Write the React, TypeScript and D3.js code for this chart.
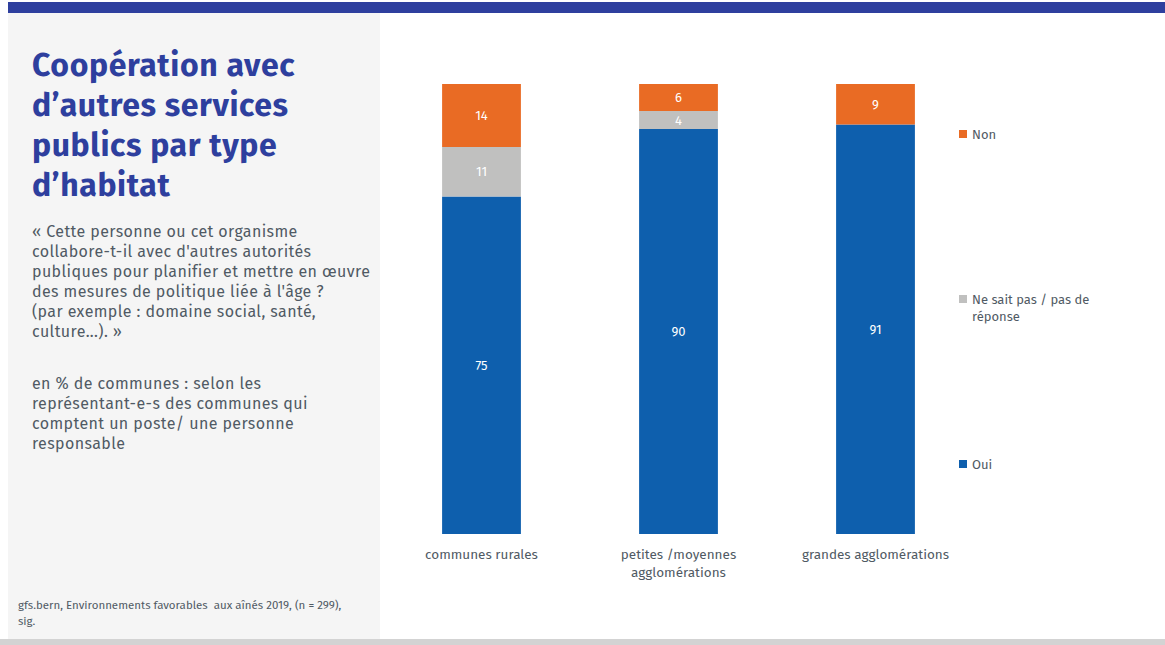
import React from "react";
import * as d3 from "d3";

const categories = ["communes rurales", "petites /moyennes|agglomérations", "grandes agglomérations"];
const seriesNames = ["Oui", "Ne sait pas / pas de|réponse", "Non"];
const oui = [75, 90, 91];
const nsp = [11, 4, 0];
const non = [14, 6, 9];
const seriesColors = ["#0E5FAD", "#C0C0BF", "#E96B24"];

const titleLines = ["Coopération avec", "d’autres services", "publics par type", "d’habitat"];
const questionLines = [
  "« Cette personne ou cet organisme",
  "collabore-t-il avec d'autres autorités",
  "publiques pour planifier et mettre en œuvre",
  "des mesures de politique liée à l'âge ?",
  "(par exemple : domaine social, santé,",
  "culture...). »",
];
const unitLines = [
  "en % de communes : selon les",
  "représentant-e-s des communes qui",
  "comptent un poste/ une personne",
  "responsable",
];
const sourceLines = ["gfs.bern, Environnements favorables  aux aînés 2019, (n = 299),", "sig."];

const FONT = "'Fira Sans', Lato, 'Open Sans', sans-serif";
const TXT = "#505A64";

export default function App() {
  const W = 1165, H = 645;
  const rows = categories.map((c, i) => ({ cat: c, Oui: oui[i], NSP: nsp[i], Non: non[i] }));
  const keys = ["Oui", "NSP", "Non"];
  const stack = d3.stack<any>().keys(keys)(rows);
  const x = d3.scaleBand<string>().domain(categories).range([383, 974]).paddingInner(0.6).paddingOuter(0.3);
  const y = d3.scaleLinear().domain([0, 100]).range([534, 84]);
  const legendY = [464, 299, 134];

  return (
    <svg width={W} height={H} style={{ position: "absolute", left: 0, top: 0 }} fontFamily={FONT}>
      <rect x={0} y={0} width={W} height={H} fill="#fff" />
      <rect x={8} y={2} width={W - 8} height={11} fill="#2E3F9E" />
      <rect x={8} y={13} width={372} height={626} fill="#F5F5F5" />
      <rect x={0} y={639} width={W} height={6} fill="#D3D3D3" />

      {titleLines.map((t, i) => (
        <text key={i} x={32} y={76 + i * 40} fontSize={32} letterSpacing={0.6} fontWeight={700} fill="#2E3F9E">{t}</text>
      ))}
      {questionLines.map((t, i) => (
        <text key={i} x={32} y={237 + i * 20} fontSize={16} letterSpacing={0.4} fill={TXT}>{t}</text>
      ))}
      {unitLines.map((t, i) => (
        <text key={i} x={32} y={389 + i * 20} fontSize={16} letterSpacing={0.4} fill={TXT}>{t}</text>
      ))}
      {sourceLines.map((t, i) => (
        <text key={i} x={18} y={609 + i * 16} fontSize={11.5} fill={TXT} style={{ whiteSpace: "pre" }}>{t}</text>
      ))}

      {stack.map((s, si) => (
        <g key={si} fill={seriesColors[si]}>
          {s.map((d, j) => {
            const v = d[1] - d[0];
            if (v <= 0) return null;
            const cat = categories[j];
            const x0 = x(cat)!;
            return (
              <g key={j}>
                <rect x={x0} y={y(d[1])} width={x.bandwidth()} height={y(d[0]) - y(d[1])} />
                <text x={x0 + x.bandwidth() / 2} y={(y(d[0]) + y(d[1])) / 2} dy="0.35em" textAnchor="middle"
                  fontSize={13} fill="#fff">{v}</text>
              </g>
            );
          })}
        </g>
      ))}

      {categories.map((c, i) => (
        <text key={i} x={x(c)! + x.bandwidth() / 2} y={559} textAnchor="middle" fontSize={13.5} fill={TXT}>
          {c.split("|").map((l, k) => (
            <tspan key={k} x={x(c)! + x.bandwidth() / 2} dy={k === 0 ? 0 : 18}>{l}</tspan>
          ))}
        </text>
      ))}

      {seriesNames.map((n, i) => (
        <g key={i}>
          <rect x={959} y={legendY[i] - 4} width={8} height={8} fill={seriesColors[i]} />
          <text x={972} y={legendY[i]} dy="0.35em" fontSize={13} fill={TXT}>
            {n.split("|").map((l, k) => (
              <tspan key={k} x={972} dy={k === 0 ? "0.35em" : 17}>{l}</tspan>
            ))}
          </text>
        </g>
      ))}
    </svg>
  );
}
